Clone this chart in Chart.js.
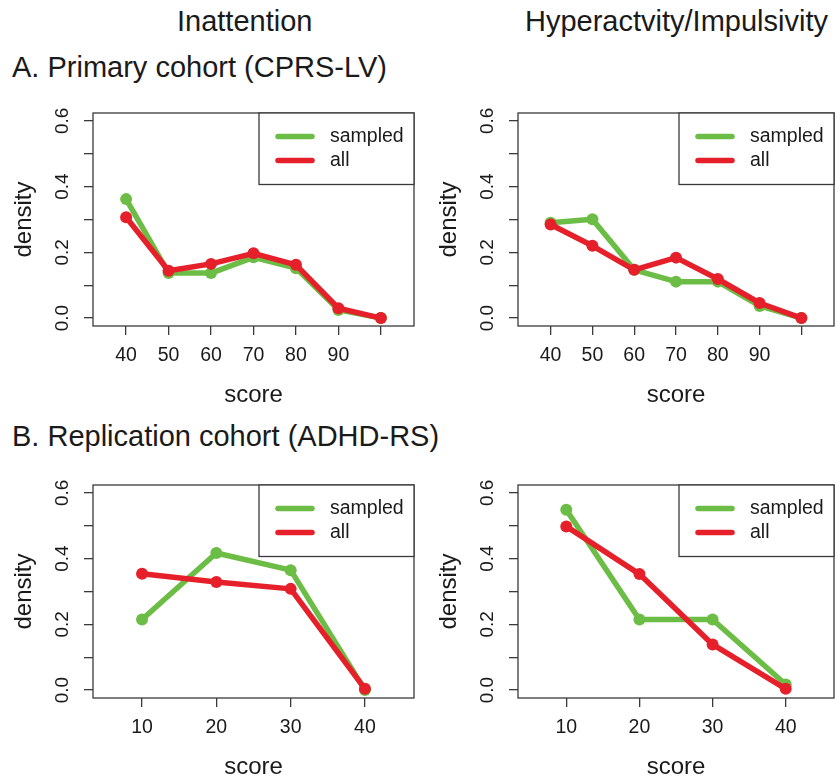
<!DOCTYPE html>
<html>
<head>
<meta charset="utf-8">
<script src="https://cdn.jsdelivr.net/npm/chart.js@4.4.1/dist/chart.umd.min.js"></script>
<style>
  body { margin: 0; background: #fff; width: 840px; height: 780px; position: relative; overflow: hidden;
         font-family: "Liberation Sans", Arial, sans-serif; color: #1a1a1a; }
  .title { position: absolute; font-size: 29px; line-height: 29px; white-space: nowrap; }
  canvas { position: absolute; }
</style>
</head>
<body>
<div class="title" style="left:177px; top:7px">Inattention</div>
<div class="title" style="left:525px; top:7px">Hyperactvity/Impulsivity</div>
<div class="title" style="left:12px; top:53px">A. Primary cohort (CPRS-LV)</div>
<div class="title" style="left:12px; top:422px">B. Replication cohort (ADHD-RS)</div>

<canvas id="inattA" width="420" height="340" style="left:0; top:90px"></canvas>
<canvas id="hyperA" width="420" height="340" style="left:420px; top:90px"></canvas>
<canvas id="inattB" width="420" height="340" style="left:0; top:462px"></canvas>
<canvas id="hyperB" width="420" height="340" style="left:420px; top:462px"></canvas>

<script>
// scores on the x axis
const scoresA = [40, 50, 60, 70, 80, 90, 100];
const scoresB = [10, 20, 30, 40];

// densities
const inattA_sampled = [0.362, 0.137, 0.137, 0.185, 0.152, 0.025, 0.0];
const inattA_all     = [0.307, 0.144, 0.165, 0.197, 0.162, 0.030, 0.0];
const hyperA_sampled = [0.290, 0.301, 0.147, 0.111, 0.111, 0.037, 0.0];
const hyperA_all     = [0.285, 0.220, 0.147, 0.184, 0.119, 0.046, 0.0];
const inattB_sampled = [0.215, 0.417, 0.365, 0.0];
const inattB_all     = [0.354, 0.329, 0.308, 0.004];
const hyperB_sampled = [0.549, 0.215, 0.215, 0.017];
const hyperB_all     = [0.498, 0.353, 0.139, 0.004];

// ticks
const xTicksA = [40, 50, 60, 70, 80, 90, 100];
const xLabelsA = ["40", "50", "60", "70", "80", "90", ""];
const xTicksB = [10, 20, 30, 40];
const xLabelsB = ["10", "20", "30", "40"];
const yTicks = [0, 0.1, 0.2, 0.3, 0.4, 0.5, 0.6];
const yLabelValues = [0, 0.2, 0.4, 0.6];
const yLabels = ["0.0", "0.2", "0.4", "0.6"];

const seriesNames = ["sampled", "all"];
const GREEN = "#6cbd45";
const RED = "#e5202a";
const INK = "#1a1a1a";
const FRAME = "#3a3a3a";
const FONT = '"Liberation Sans", Arial, sans-serif';

// box, rotated y labels and the R style legend
const panelDecor = {
  id: "panelDecor",
  afterDraw(chart) {
    const { ctx, chartArea: a } = chart;
    const yScale = chart.scales.y;
    ctx.save();
    ctx.strokeStyle = FRAME;
    ctx.lineWidth = 1.3;
    ctx.strokeRect(a.left, a.top, a.right - a.left, a.bottom - a.top);

    ctx.fillStyle = INK;
    ctx.font = "19px " + FONT;
    ctx.textAlign = "center";
    ctx.textBaseline = "middle";
    yLabelValues.forEach((v, i) => {
      ctx.save();
      ctx.translate(a.left - 30, yScale.getPixelForValue(v));
      ctx.rotate(-Math.PI / 2);
      ctx.fillText(yLabels[i], 0, 0);
      ctx.restore();
    });

    // legend
    const bl = a.right - 155;
    const bt = a.top;
    ctx.fillStyle = "#fff";
    ctx.fillRect(bl, bt, a.right - bl, 71.5);
    ctx.strokeRect(bl, bt, a.right - bl, 71.5);
    ctx.textAlign = "left";
    ctx.font = "19.5px " + FONT;
    chart.data.datasets.forEach((ds, i) => {
      const ly = bt + 23.5 + i * 24;
      ctx.strokeStyle = ds.borderColor;
      ctx.lineWidth = 5.5;
      ctx.lineCap = "round";
      ctx.beginPath();
      ctx.moveTo(bl + 19, ly);
      ctx.lineTo(bl + 53, ly);
      ctx.stroke();
      ctx.fillStyle = INK;
      ctx.fillText(ds.label, bl + 71, ly);
    });
    ctx.restore();
  }
};

function makePanel(id, xs, sampled, all, xMin, xMax, xTicks, xLabels, leftW, rightPad) {
  const toPts = vals => vals.map((v, i) => ({ x: xs[i], y: v }));
  const lineStyle = color => ({
    borderColor: color,
    backgroundColor: color,
    borderWidth: 5.5,
    borderCapStyle: "round",
    borderJoinStyle: "round",
    pointRadius: 6,
    pointBorderWidth: 0,
    pointBackgroundColor: color,
    tension: 0
  });

  new Chart(document.getElementById(id), {
    type: "line",
    data: {
      datasets: [
        Object.assign({ label: seriesNames[0], data: toPts(sampled), order: 2 }, lineStyle(GREEN)),
        Object.assign({ label: seriesNames[1], data: toPts(all), order: 1 }, lineStyle(RED))
      ]
    },
    options: {
      responsive: false,
      animation: false,
      events: [],
      layout: { padding: { top: 23, right: rightPad, left: 0, bottom: 0 } },
      plugins: { legend: { display: false }, tooltip: { enabled: false } },
      scales: {
        x: {
          type: "linear",
          min: xMin,
          max: xMax,
          afterBuildTicks: s => { s.ticks = xTicks.map(v => ({ value: v })); },
          afterFit: s => { s.height = 104; },
          ticks: {
            color: INK,
            font: { family: FONT, size: 19.5 },
            padding: 9,
            maxRotation: 0,
            autoSkip: false,
            callback: v => xLabels[xTicks.indexOf(v)]
          },
          grid: { drawOnChartArea: false, drawTicks: true, tickLength: 9, color: FRAME, lineWidth: 1.3 },
          border: { display: false },
          title: {
            display: true,
            text: "score",
            color: INK,
            font: { family: FONT, size: 24 },
            padding: { top: 0, bottom: 20 }
          }
        },
        y: {
          type: "linear",
          min: -0.024,
          max: 0.624,
          afterBuildTicks: s => { s.ticks = yTicks.map(v => ({ value: v })); },
          afterFit: s => { s.width = leftW; },
          ticks: { display: false },
          grid: { drawOnChartArea: false, drawTicks: true, tickLength: 9, color: FRAME, lineWidth: 1.3 },
          border: { display: false },
          title: {
            display: true,
            text: "density",
            color: INK,
            font: { family: FONT, size: 24 },
            padding: { top: leftW - 83, bottom: 0 }
          }
        }
      }
    },
    plugins: [panelDecor]
  });
}

makePanel("inattA", scoresA, inattA_sampled, inattA_all, 32.2, 107.8, xTicksA, xLabelsA, 93, 3.3);
makePanel("hyperA", scoresA, hyperA_sampled, hyperA_all, 32.2, 107.8, xTicksA, xLabelsA, 98, 1.3);
makePanel("inattB", scoresB, inattB_sampled, inattB_all, 3.4, 46.6, xTicksB, xLabelsB, 93, 3.3);
makePanel("hyperB", scoresB, hyperB_sampled, hyperB_all, 3.4, 46.6, xTicksB, xLabelsB, 98, 1.3);
</script>
</body>
</html>
